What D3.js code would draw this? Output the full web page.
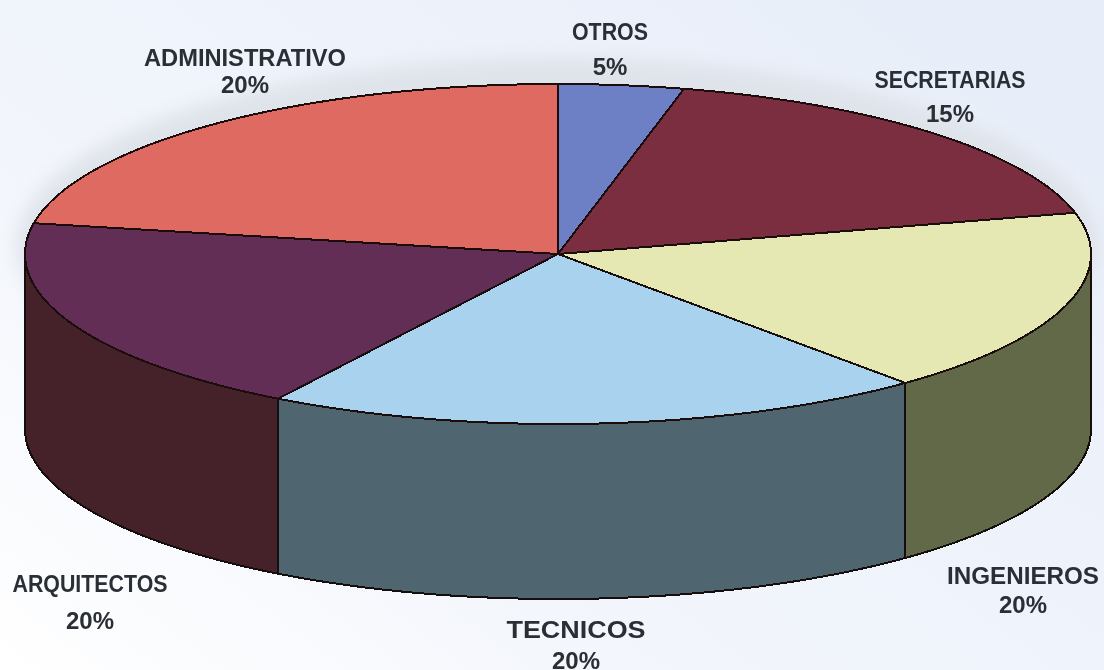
<!DOCTYPE html>
<html lang="es">
  <head>
    <meta charset="utf-8">
    <title>Personal por categoria</title>
    <script src="https://cdn.jsdelivr.net/npm/d3@7"></script>
    <style>
      html, body { margin: 0; padding: 0; background: #fff; }
      svg { display: block; }
      text { font-family: "Liberation Sans", Arial, sans-serif; font-weight: bold; fill: #2b2e35; }
    </style>
  </head>
  <body>
    <script>
      /* data, clockwise from 12 o'clock */
      const categories = ["OTROS", "SECRETARIAS", "INGENIEROS", "TECNICOS", "ARQUITECTOS", "ADMINISTRATIVO"];
      const printedLabels = ["5%", "15%", "20%", "20%", "20%", "20%"];
      // the slices as drawn are not what the labels say, these are read off the picture
      const drawnShares = [3.8, 17.3, 17.6, 20.1, 19.1, 22.1];

      /* colours */
      const topColors = ["#6d80c6", "#7a2d40", "#e6e8b4", "#a8d2ee", "#642e57", "#df6a62"];
      const wallColors = ["#4a5688", "#521e2b", "#62694a", "#4f6670", "#44202a", "#964640"];

      /* layout */
      const WIDTH = 1104;
      const HEIGHT = 670;
      const CX = 558;
      const CY = 254;
      const RX = 533;
      const RY = 170;
      const DEPTH = 175;
      const FONT_SIZE = 24;

      // x centre, name baseline, percent baseline, name width
      const labelPos = {
        "OTROS": [610, 40, 75, 76],
        "SECRETARIAS": [950, 88, 122, 151],
        "INGENIEROS": [1023, 584, 613, 152],
        "TECNICOS": [576, 638, 669, 139],
        "ARQUITECTOS": [90, 592, 629, 155],
        "ADMINISTRATIVO": [245, 66, 93, 202]
      };

      let svg = d3.select("body").append("svg")
        .attr("width", WIDTH)
        .attr("height", HEIGHT)
      ;

      let defs = svg.append("defs");

      let paper = defs.append("linearGradient")
        .attr("id", "paper")
        .attr("x1", 0).attr("y1", 1)
        .attr("x2", 1).attr("y2", 0.2)
      ;
      paper.append("stop").attr("offset", 0).attr("stop-color", "#ffffff");
      paper.append("stop").attr("offset", 0.35).attr("stop-color", "#f3f6fc");
      paper.append("stop").attr("offset", 1).attr("stop-color", "#e8eef9");

      defs.append("filter").attr("id", "halo")
        .attr("x", "-10%").attr("y", "-20%").attr("width", "120%").attr("height", "140%")
        .append("feGaussianBlur").attr("stdDeviation", 9);
      defs.append("filter").attr("id", "scan")
        .append("feGaussianBlur").attr("stdDeviation", 0.55);

      svg.append("rect")
        .attr("width", WIDTH)
        .attr("height", HEIGHT)
        .attr("fill", "url(#paper)")
      ;

      // grey show-through from the other side of the page
      svg.append("ellipse")
        .attr("cx", CX)
        .attr("cy", CY - 8)
        .attr("rx", RX + 8)
        .attr("ry", RY + 18)
        .attr("fill", "#dfe3ea")
        .attr("filter", "url(#halo)")
      ;

      let g_chart = svg.append("g").attr("filter", "url(#scan)");

      let pie = d3.pie().sort(null).value(d => d)(drawnShares);

      function rimPoint(angle, drop) {
        return [CX + RX * Math.sin(angle), CY - RY * Math.cos(angle) + drop];
      }

      function rimSamples(a0, a1, drop) {
        let n = Math.max(2, Math.ceil((a1 - a0) * 120));
        return d3.range(n + 1).map(i => rimPoint(a0 + (a1 - a0) * i / n, drop));
      }

      let line = d3.line();

      /* walls: only the front half of the rim shows */
      pie.forEach(function(s, i) {
        let a0 = Math.max(s.startAngle, Math.PI / 2);
        let a1 = Math.min(s.endAngle, Math.PI * 1.5);
        if (a1 <= a0) return;
        let pts = rimSamples(a0, a1, 0).concat(rimSamples(a0, a1, DEPTH).reverse());
        g_chart.append("path")
          .attr("d", line(pts) + "Z")
          .attr("fill", wallColors[i])
          .attr("stroke", "#14100c")
          .attr("stroke-width", 2)
          .attr("stroke-linejoin", "round")
          .attr("shape-rendering", "crispEdges")
        ;
      });

      /* top face */
      pie.forEach(function(s, i) {
        let pts = [[CX, CY]].concat(rimSamples(s.startAngle, s.endAngle, 0));
        g_chart.append("path")
          .attr("d", line(pts) + "Z")
          .attr("fill", topColors[i])
          .attr("stroke", "#1c0f0c")
          .attr("stroke-width", 2)
          .attr("stroke-linejoin", "round")
          .attr("shape-rendering", "crispEdges")
        ;
      });

      /* labels */
      let g_labels = svg.append("g").attr("filter", "url(#scan)");

      categories.forEach(function(name, i) {
        let pos = labelPos[name];
        g_labels.append("text")
          .attr("x", pos[0])
          .attr("y", pos[1])
          .attr("text-anchor", "middle")
          .attr("font-size", FONT_SIZE)
          .attr("textLength", pos[3])
          .attr("lengthAdjust", "spacingAndGlyphs")
          .text(name)
        ;
        g_labels.append("text")
          .attr("x", pos[0])
          .attr("y", pos[2])
          .attr("text-anchor", "middle")
          .attr("font-size", FONT_SIZE)
          .text(printedLabels[i])
        ;
      });
    </script>
  </body>
</html>
